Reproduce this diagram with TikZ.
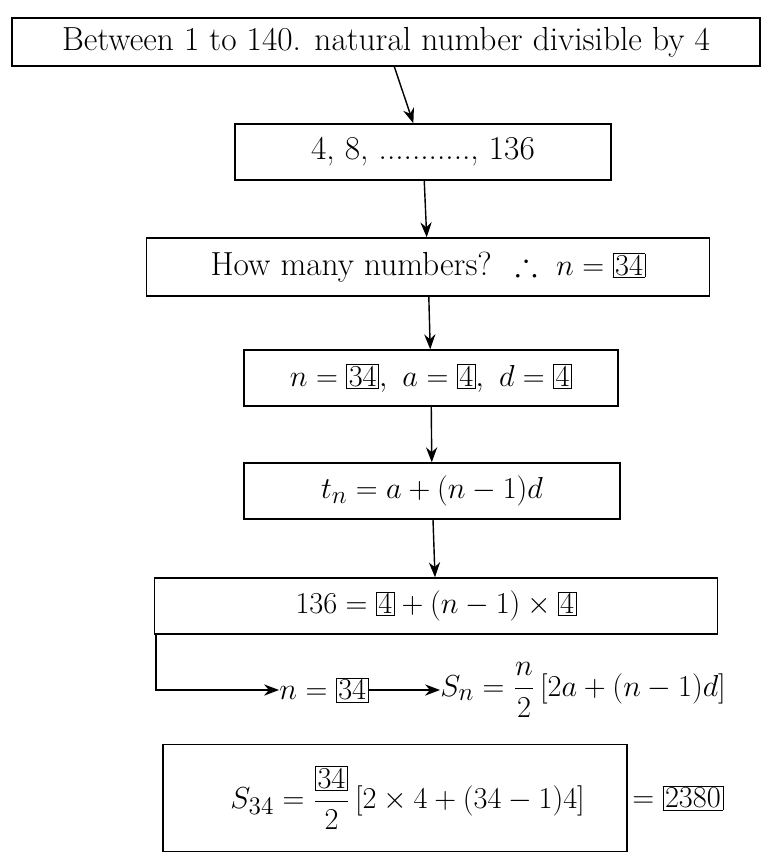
\documentclass[tikz,border=0pt]{standalone}
\usepackage{amsmath,amssymb}
\usetikzlibrary{positioning,arrows.meta}
\newcommand{\bx}[1]{\setlength{\fboxsep}{1pt}\fbox{$#1$}}
\tikzset{
  flowbox/.style={rectangle, draw=black, thick, inner sep=0pt, align=center},
  plain/.style={inner sep=0pt, align=center},
  flow_arrow/.style={-{Stealth[length=3mm]}, thick}
}
\begin{document}
\begin{tikzpicture}[x=0.02cm, y=-0.02cm]
  \fontsize{19}{23}\selectfont
  \useasboundingbox (0,0) rectangle (768,861);

  %% boxes
  \node (total) [flowbox, minimum width=748*0.02cm, minimum height=48*0.02cm] at (386,42) {%
    Between 1 to 140. natural number divisible by 4};
  \node (terms) [flowbox, minimum width=376*0.02cm, minimum height=56*0.02cm] at (423,152) {%
    4, 8, ..........., 136};
  \node (count) [flowbox, minimum width=563*0.02cm, minimum height=58*0.02cm] at (428,267) {%
    How many numbers? \ $\therefore\ n = \bx{34}$};
  \node (values) [flowbox, minimum width=374*0.02cm, minimum height=56*0.02cm] at (431,378) {%
    $n = \bx{34},\ a = \bx{4},\ d = \bx{4}$};
  \node (general) [flowbox, minimum width=376*0.02cm, minimum height=56*0.02cm] at (432,491) {%
    $t_n = a + (n-1)d$};
  \node (solve) [flowbox, minimum width=563*0.02cm, minimum height=56*0.02cm] at (436,606) {%
    $136 = \bx{4} + (n-1)\times\bx{4}$};

  %% result row
  \node (nval) [plain] at (324,690) {$n = \bx{34}$};
  \node (sumformula) [plain, anchor=west] at (440,690) {%
    $S_n = \dfrac{n}{2}\,[2a + (n-1)d]$};

  %% final sum
  \node (final) [flowbox, minimum width=464*0.02cm, minimum height=107*0.02cm] at (395,798) {};
  \node (finalexpr) [plain, anchor=west] at (230,798) {%
    $S_{34} = \dfrac{\bx{34}}{2}\,[2\times 4 + (34-1)4]$};
  \node (answer) [plain, anchor=west] at (632,798) {$= \bx{2380}$};

  %% connections
  \draw [flow_arrow] (total) -- (terms);
  \draw [flow_arrow] (terms) -- (count);
  \draw [flow_arrow] (count) -- (values);
  \draw [flow_arrow] (values) -- (general);
  \draw [flow_arrow] (general) -- (solve);
  \draw [flow_arrow] (solve.south west) ++(2,0) |- (nval.west);
  \draw [flow_arrow] (nval) -- (sumformula);
\end{tikzpicture}
\end{document}
